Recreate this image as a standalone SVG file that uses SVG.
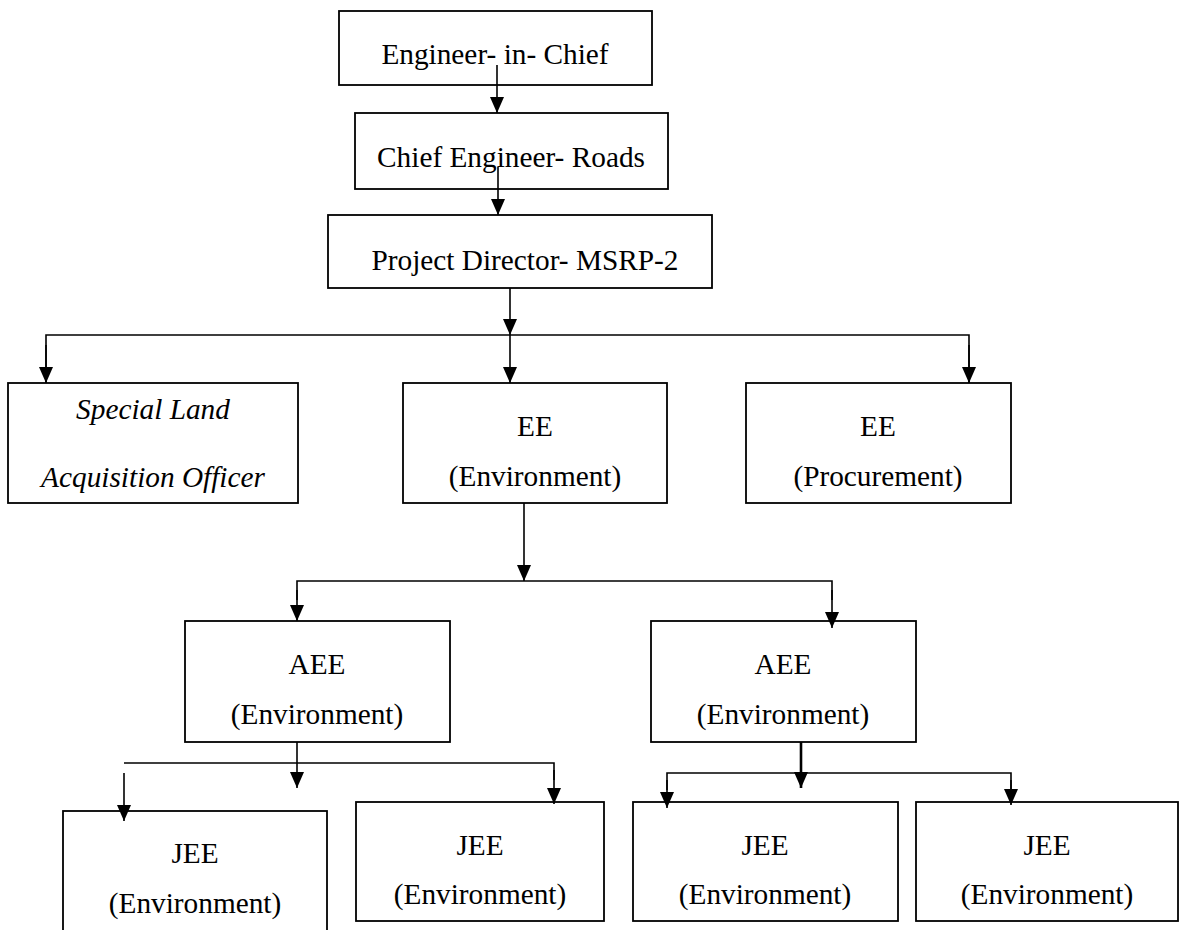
<svg xmlns="http://www.w3.org/2000/svg" width="1179" height="930" viewBox="0 0 1179 930">
  <style>
    .box { fill: #ffffff; stroke: #000000; stroke-width: 1.8; }
    .lbl { font-family: 'Liberation Serif', 'Times New Roman', serif; font-size: 29.3px; fill: #000000; text-anchor: middle; }
    .it { font-style: italic; }
    .ln { fill: none; stroke: #000000; stroke-width: 1.6; }
    .arr { fill: none; stroke: #000000; stroke-width: 1.6; marker-end: url(#ah); }
  </style>
  <defs>
    <marker id="ah" viewBox="0 0 16 14" markerWidth="16" markerHeight="14" refX="16" refY="7" orient="auto" markerUnits="userSpaceOnUse">
      <path d="M0,0 L16,7 L0,14 z" fill="#000000"/>
    </marker>
  </defs>
  <rect width="1179" height="930" fill="#ffffff"/>

  <g id="n-eic">
    <rect class="box" x="339" y="11" width="313" height="74"/>
    <text class="lbl" x="495" y="64">Engineer- in- Chief</text>
  </g>
  <g id="n-ce">
    <rect class="box" x="355" y="113" width="313" height="76"/>
    <text class="lbl" x="511" y="167">Chief Engineer- Roads</text>
  </g>
  <g id="n-pd">
    <rect class="box" x="328" y="215" width="384" height="73"/>
    <text class="lbl" x="525" y="270">Project Director- MSRP-2</text>
  </g>
  <g id="n-slao">
    <rect class="box" x="8" y="383" width="290" height="120"/>
    <text class="lbl it" x="153" y="419">Special Land</text>
    <text class="lbl it" x="153" y="487">Acquisition Officer</text>
  </g>
  <g id="n-ee-env">
    <rect class="box" x="403" y="383" width="264" height="120"/>
    <text class="lbl" x="535" y="436">EE</text>
    <text class="lbl" x="535" y="486">(Environment)</text>
  </g>
  <g id="n-ee-proc">
    <rect class="box" x="746" y="383" width="265" height="120"/>
    <text class="lbl" x="878" y="436">EE</text>
    <text class="lbl" x="878" y="486">(Procurement)</text>
  </g>
  <g id="n-aee-1">
    <rect class="box" x="185" y="621" width="265" height="121"/>
    <text class="lbl" x="317" y="674">AEE</text>
    <text class="lbl" x="317" y="724">(Environment)</text>
  </g>
  <g id="n-aee-2">
    <rect class="box" x="651" y="621" width="265" height="121"/>
    <text class="lbl" x="783" y="674">AEE</text>
    <text class="lbl" x="783" y="724">(Environment)</text>
  </g>
  <g id="n-jee-1">
    <rect class="box" x="63" y="811" width="264" height="140"/>
    <text class="lbl" x="195" y="863">JEE</text>
    <text class="lbl" x="195" y="913">(Environment)</text>
  </g>
  <g id="n-jee-2">
    <rect class="box" x="356" y="802" width="248" height="119"/>
    <text class="lbl" x="480" y="855">JEE</text>
    <text class="lbl" x="480" y="904">(Environment)</text>
  </g>
  <g id="n-jee-3">
    <rect class="box" x="633" y="802" width="265" height="119"/>
    <text class="lbl" x="765" y="855">JEE</text>
    <text class="lbl" x="765" y="904">(Environment)</text>
  </g>
  <g id="n-jee-4">
    <rect class="box" x="916" y="802" width="262" height="119"/>
    <text class="lbl" x="1047" y="855">JEE</text>
    <text class="lbl" x="1047" y="904">(Environment)</text>
  </g>

  <g id="connectors">
    <line class="arr" x1="497" y1="65" x2="497" y2="113"/>
    <line class="arr" x1="498" y1="167" x2="498" y2="215"/>
    <line class="arr" x1="510" y1="288" x2="510" y2="335"/>
    <polyline class="ln" points="46,383 46,335 969,335 969,383"/>
    <line class="arr" x1="46" y1="345" x2="46" y2="383"/>
    <line class="arr" x1="510" y1="335" x2="510" y2="383"/>
    <line class="arr" x1="969" y1="345" x2="969" y2="383"/>

    <line class="arr" x1="524" y1="503" x2="524" y2="581"/>
    <polyline class="ln" points="297,600 297,581 832,581 832,600"/>
    <line class="arr" x1="297" y1="590" x2="297" y2="621"/>
    <line class="arr" x1="832" y1="590" x2="832" y2="628"/>

    <line class="arr" x1="297" y1="742" x2="297" y2="788"/>
    <polyline class="ln" points="124,763 554,763 554,780"/>
    <line class="arr" x1="554" y1="770" x2="554" y2="804"/>
    <line class="arr" x1="124" y1="773" x2="124" y2="821"/>

    <line class="arr" x1="801" y1="742" x2="801" y2="788" style="stroke-width:2.6"/>
    <polyline class="ln" points="667,790 667,773 1011,773 1011,790"/>
    <line class="arr" x1="667" y1="780" x2="667" y2="808"/>
    <line class="arr" x1="1011" y1="780" x2="1011" y2="805"/>
  </g>
</svg>
